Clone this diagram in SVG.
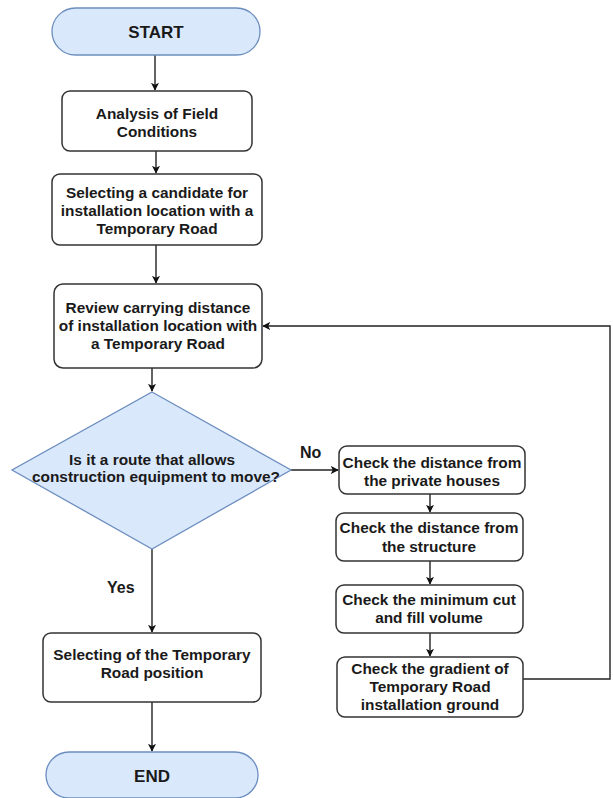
<svg xmlns="http://www.w3.org/2000/svg" width="613" height="798" viewBox="0 0 613 798">
<defs>
<marker id="arr" viewBox="0 0 10 10" refX="9" refY="5" markerWidth="8" markerHeight="8" markerUnits="userSpaceOnUse" orient="auto">
<path d="M0,0 L10,5 L0,10 L2.5,5 Z" fill="#111"/>
</marker>
<style>
.box{fill:#fff;stroke:#333;stroke-width:1.5}
.term{fill:#dae8fc;stroke:#6c8ebf;stroke-width:1.3}
.t{font-family:"Liberation Sans",Arial,sans-serif;font-weight:bold;font-size:15.4px;fill:#1a1a1a;text-anchor:middle}
.big{font-size:17px}
.lbl{font-family:"Liberation Sans",Arial,sans-serif;font-weight:bold;font-size:16px;fill:#1a1a1a}
.c{fill:none;stroke:#222;stroke-width:1.4}
</style>
</defs>
<rect width="613" height="798" fill="#fff"/>
<g id="connectors">
<path class="c" d="M155,55 V90" marker-end="url(#arr)"/>
<path class="c" d="M156,151 V173" marker-end="url(#arr)"/>
<path class="c" d="M156,245 V283" marker-end="url(#arr)"/>
<path class="c" d="M152,368 V391" marker-end="url(#arr)"/>
<path class="c" d="M291,470 V470 H338" marker-end="url(#arr)"/>
<path class="c" d="M152,549 V632" marker-end="url(#arr)"/>
<path class="c" d="M152,702 V751" marker-end="url(#arr)"/>
<path class="c" d="M430,494 V512" marker-end="url(#arr)"/>
<path class="c" d="M430,561 V584" marker-end="url(#arr)"/>
<path class="c" d="M430,633 V656" marker-end="url(#arr)"/>
<path class="c" d="M523,679 H610 V326 H263" marker-end="url(#arr)"/>
<text class="lbl" x="300" y="458">No</text>
<text class="lbl" x="107" y="593">Yes</text>
</g>
<g id="start">
<rect class="term" x="52" y="8" width="208" height="47" rx="23.5"/>
<text class="t big" x="156" y="38">START</text>
</g>
<g id="analysis">
<rect class="box" x="62" y="91" width="190" height="60" rx="8"/>
<text class="t" x="157" y="119">Analysis of Field</text>
<text class="t" x="157" y="137">Conditions</text>
</g>
<g id="candidate">
<rect class="box" x="52" y="174" width="210" height="71" rx="8"/>
<text class="t" x="157" y="198">Selecting a candidate for</text>
<text class="t" x="157" y="216">installation location with a</text>
<text class="t" x="157" y="234">Temporary Road</text>
</g>
<g id="review">
<rect class="box" x="54" y="284" width="208" height="84" rx="9"/>
<text class="t" x="158" y="313">Review carrying distance</text>
<text class="t" x="158" y="331">of installation location with</text>
<text class="t" x="158" y="349">a Temporary Road</text>
</g>
<g id="decision">
<polygon points="152,392 291,470 152,549 12,470" fill="#dae8fc" stroke="#6c8ebf" stroke-width="1.3"/>
<text class="t" x="152" y="465">Is it a route that allows</text>
<text class="t" x="156" y="482">construction equipment to move?</text>
</g>
<g id="check1">
<rect class="box" x="339" y="446" width="186" height="48" rx="8"/>
<text class="t" x="432" y="468">Check the distance from</text>
<text class="t" x="432" y="486">the private houses</text>
</g>
<g id="check2">
<rect class="box" x="336" y="513" width="187" height="48" rx="8"/>
<text class="t" x="429" y="533">Check the distance from</text>
<text class="t" x="429" y="552">the structure</text>
</g>
<g id="check3">
<rect class="box" x="336" y="585" width="187" height="48" rx="8"/>
<text class="t" x="429" y="605">Check the minimum cut</text>
<text class="t" x="429" y="623">and fill volume</text>
</g>
<g id="check4">
<rect class="box" x="337" y="657" width="186" height="60" rx="8"/>
<text class="t" x="430" y="674">Check the gradient of</text>
<text class="t" x="430" y="692">Temporary Road</text>
<text class="t" x="430" y="710">installation ground</text>
</g>
<g id="select">
<rect class="box" x="43" y="633" width="218" height="69" rx="8"/>
<text class="t" x="152" y="660">Selecting of the Temporary</text>
<text class="t" x="152" y="678">Road position</text>
</g>
<g id="end">
<rect class="term" x="46" y="752" width="212" height="46" rx="23"/>
<text class="t big" x="152" y="782">END</text>
</g>
</svg>
